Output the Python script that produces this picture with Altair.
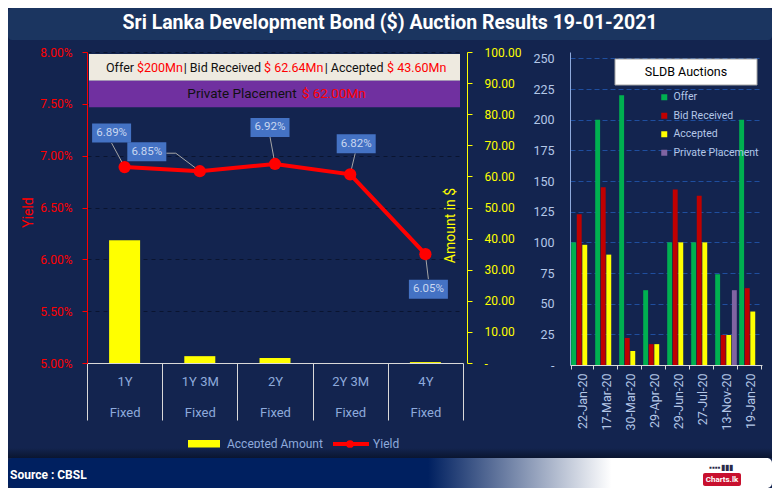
import altair as alt
import pandas as pd

# ---------------- data ----------------
tenors = ["1Y", "1Y 3M", "2Y", "2Y 3M", "4Y"]
tenor_type = "Fixed"
yields = [6.89, 6.85, 6.92, 6.82, 6.05]
accepted_amount = [39.5, 2.2, 1.6, 0.0, 0.3]

auction_dates = ["22-Jan-20", "17-Mar-20", "30-Mar-20", "29-Apr-20",
                 "29-Jun-20", "27-Jul-20", "13-Nov-20", "19-Jan-20"]
offer = [100, 200, 220, 61, 100, 100, 74, 200]
bid_received = [123, 145, 22, 17, 143, 138, 24.5, 62.64]
accepted = [98, 90, 11.5, 17, 100, 100, 24.5, 43.6]
private_placement = [None, None, None, None, None, None, 61, None]

series_names = ["Offer", "Bid Received", "Accepted", "Private Placement"]
series_colors = ["#00b050", "#c00000", "#ffff00", "#8064a2"]

# ---------------- style ----------------
FONT = "Roboto"
BG = "#13244f"
TITLE_BG = "#1b3560"
LIGHT = "#b4c7e7"

W_L, H_L = 376, 311
W_R, H_R = 192, 313

left_df = pd.DataFrame({"tenor": tenors, "yield": yields, "accepted": accepted_amount})
left_df["label"] = [f"{v:.2f}%" for v in yields]

rows = []
for i, d in enumerate(auction_dates):
    for name, vals in zip(series_names, [offer, bid_received, accepted, private_placement]):
        if vals[i] is not None:
            rows.append({"date": d, "series": name, "value": vals[i]})
right_df = pd.DataFrame(rows)

one = pd.DataFrame({"k": [0]})

# ---------------- left chart ----------------
x_enc = alt.X(
    "tenor:N", sort=tenors, title=None,
    scale=alt.Scale(paddingInner=0, paddingOuter=0),
    axis=alt.Axis(labelAngle=0,
                  labelExpr=f"datum.label ? [datum.label, '{tenor_type}'] : ''",
                  labelLineHeight=31, labelColor="#8eaadb", labelFontSize=13,
                  labelBaseline="top", labelPadding=-45,
                  tickBand="extent", tickSize=57, tickColor="#d9d9d9",
                  domainColor="#d9d9d9", grid=False),
)

y_yield = alt.Y(
    "yield:Q", title="Yield",
    scale=alt.Scale(domain=[5, 8], nice=False, zero=False),
    axis=alt.Axis(orient="left", values=[5, 5.5, 6, 6.5, 7, 7.5, 8],
                  labelExpr="format(datum.value, '.2f') + '%'",
                  labelColor="#ff0000", labelFontSize=12, labelPadding=10,
                  domainColor="#ff0000", tickColor="#ff0000", tickSize=5,
                  grid=True, gridColor="#0a1430", gridDash=[4, 4],
                  titleColor="#ff0000", titleFontSize=14, titleFontWeight="normal",
                  titleX=-59, titleY=160, titleBaseline="middle"),
)

y_amt = alt.Y(
    "accepted:Q", title="Amount in $",
    scale=alt.Scale(domain=[0, 100], nice=False),
    axis=alt.Axis(orient="right", values=list(range(0, 101, 10)),
                  labelExpr="datum.value == 0 ? '-' : format(datum.value, '.2f')",
                  labelColor="#ffff00", labelFontSize=12, labelPadding=12,
                  domainColor="#ffff00", tickColor="#ffff00", tickSize=5,
                  offset=4, grid=False,
                  titleColor="#ffff00", titleFontSize=14, titleFontWeight="normal",
                  titleAngle=270, titleX=-17, titleY=173, titleBaseline="middle"),
)

base = alt.Chart(left_df)
bars = base.mark_bar(size=31, color="#ffff00").encode(x=x_enc, y=y_amt)

label_style = {
    "1Y": (-13, -34, "M-13,-24L0,0"),
    "1Y 3M": (-53, -19.5, "M-33.5,-18L-24,-18L0,0"),
    "2Y": (-5, -36.5, "M-5,-27L0,0"),
    "2Y 3M": (6, -30.5, "M5,-21L0,0"),
    "4Y": (3, 35, "M3,25L0,0"),
}
box_path = "M-19.5,-9.5H19.5V9.5H-19.5Z"

ylayers = [base.mark_line(color="#ff0000", strokeWidth=4).encode(x=x_enc, y=y_yield)]
for t, (dx, dy, path) in label_style.items():
    ylayers.append(
        base.transform_filter(alt.datum.tenor == t)
        .mark_point(shape=path, size=4, filled=False, color="#a6a6a6", strokeWidth=1, opacity=1)
        .encode(x=x_enc, y=y_yield))
ylayers.append(base.mark_circle(size=150, color="#ff0000", opacity=1).encode(x=x_enc, y=y_yield))
for t, (dx, dy, path) in label_style.items():
    sub = base.transform_filter(alt.datum.tenor == t)
    ylayers.append(
        sub.mark_point(shape=box_path, size=4, filled=True, color="#4472c4", opacity=1,
                       strokeWidth=0, xOffset=dx, yOffset=dy)
        .encode(x=x_enc, y=y_yield))
    ylayers.append(
        sub.mark_text(dx=dx, dy=dy, color="#c9d7f0", fontSize=11.5)
        .encode(x=x_enc, y=y_yield, text="label:N"))
yield_group = alt.layer(*ylayers)


def rect(x1, x2, y1, y2, **kw):
    return alt.Chart(one).mark_rect(**kw).encode(
        x=alt.value(x1), x2=alt.value(x2), y=alt.value(y1), y2=alt.value(y2))


def text(x, y, s, **kw):
    return alt.Chart(one).mark_text(text=s, **kw).encode(x=alt.value(x), y=alt.value(y))


footer_grad = alt.LinearGradient(
    gradient="linear", x1=0, x2=1, y1=0, y2=0,
    stops=[alt.GradientStop(color="#002060", offset=0),
           alt.GradientStop(color="#002060", offset=0.55),
           alt.GradientStop(color="#ffffff", offset=0.79),
           alt.GradientStop(color="#ffffff", offset=1)])
shadow_grad = alt.LinearGradient(
    gradient="linear", x1=0, x2=0, y1=0, y2=1,
    stops=[alt.GradientStop(color=BG, offset=0),
           alt.GradientStop(color="#0a1530", offset=1)])

HF = 12.5
decor = [
    # invisible frame fixing the overall extent
    rect(-79, 685, -44, 436, opacity=0),
    # title bar
    rect(-79, 685, -44, -12, color=TITLE_BG, cornerRadius=4),
    text(303, -29, "Sri Lanka Development Bond ($) Auction Results 19-01-2021",
         color="white", fontSize=19.5, fontWeight="bold"),
    # header boxes
    rect(2, 373, 2, 28.7, color="#eeeae0"),
    rect(2, 373, 28.7, 55.3, color="#7030a0"),
    text(47, 16, "Offer", color="#111111", fontSize=HF, align="right"),
    text(50, 16, "$200Mn", color="#ff0000", fontSize=HF, align="left"),
    text(174, 16, "| Bid Received", color="#111111", fontSize=HF, align="right"),
    text(177, 16, "$ 62.64Mn", color="#ff0000", fontSize=HF, align="left"),
    text(296.5, 16, "| Accepted", color="#111111", fontSize=HF, align="right"),
    text(300, 16, "$ 43.60Mn", color="#ff0000", fontSize=HF, align="left"),
    text(209.7, 42, "Private Placement", color="#111111", fontSize=13.5, align="right"),
    text(214.7, 42, "$ 62.00Mn", color="#ff0000", fontSize=13.5, align="left"),
    # bottom legend
    rect(101, 133, 388, 395.5, color="#ffff00"),
    text(140, 392, "Accepted Amount", color="#8eaadb", fontSize=12, align="left"),
    alt.Chart(one).mark_rule(color="#ff0000", strokeWidth=4).encode(
        x=alt.value(246), x2=alt.value(282), y=alt.value(392)),
    alt.Chart(one).mark_circle(color="#ff0000", size=60, opacity=1).encode(
        x=alt.value(263), y=alt.value(392)),
    text(286, 392, "Yield", color="#8eaadb", fontSize=12, align="left"),
    # footer
    rect(-79, 685, 396, 406, fill=shadow_grad),
    rect(-79, 685, 406, 436, fill=footer_grad, cornerRadius=5),
    text(-77, 423, "Source : CBSL", color="white", fontSize=12, fontWeight="bold", align="left"),
    rect(616, 654, 421, 434, color="#c8102e", cornerRadius=2),
    text(635, 428, "Charts.lk", color="white", fontSize=8, fontWeight="bold"),
    text(634, 416, "▪▪▪▪▮▮▮", color="#2a2a48", fontSize=8),
]

left = alt.layer(bars, yield_group, *decor).resolve_scale(y="independent").properties(
    width=W_L, height=H_L)

# ---------------- right chart ----------------
bars_r = alt.Chart(right_df).mark_bar().encode(
    x=alt.X("date:N", sort=auction_dates, title=None,
            scale=alt.Scale(paddingInner=0.1, paddingOuter=0.05),
            axis=alt.Axis(labelAngle=270, labelColor=LIGHT, labelFontSize=12.5, labelPadding=4,
                          tickBand="extent", tickSize=4, tickColor="#d9d9d9",
                          domainColor="#d9d9d9", grid=False)),
    xOffset=alt.XOffset("series:N", sort=series_names,
                        scale=alt.Scale(domain=series_names, paddingInner=0.12)),
    y=alt.Y("value:Q", title=None,
            scale=alt.Scale(domain=[0, 255.2], nice=False),
            axis=alt.Axis(values=list(range(0, 251, 25)),
                          labelExpr="datum.value == 0 ? '-' : datum.label",
                          labelColor=LIGHT, labelFontSize=12.5, ticks=False,
                          domainColor="#8faadc", labelPadding=16,
                          gridColor="#1f4e9f", gridDash=[5, 3])),
    color=alt.Color("series:N", sort=series_names,
                    scale=alt.Scale(domain=series_names, range=series_colors),
                    legend=alt.Legend(title=None, orient="none", legendX=572, legendY=40,
                                      symbolType="square", symbolSize=36, symbolStrokeWidth=0,
                                      labelColor=LIGHT, labelFontSize=10.5, labelOffset=4,
                                      rowPadding=7.5, padding=0)),
)

legend_box = alt.Chart(one).mark_rect(color="white", stroke="#a6a6a6", strokeWidth=1).encode(
    x=alt.value(45), x2=alt.value(187), y=alt.value(7), y2=alt.value(33))
legend_title = alt.Chart(one).mark_text(text="SLDB Auctions", color="black", fontSize=12.5).encode(
    x=alt.value(116), y=alt.value(20))

right = alt.layer(bars_r, legend_box, legend_title).properties(width=W_R, height=H_R)

chart = alt.hconcat(left, right, spacing=107, bounds="flush").properties(
    padding=0
).configure(
    background=BG, font=FONT
).configure_view(strokeWidth=0)

chart.save("out.html", embed_options={"renderer": "svg", "actions": False})
